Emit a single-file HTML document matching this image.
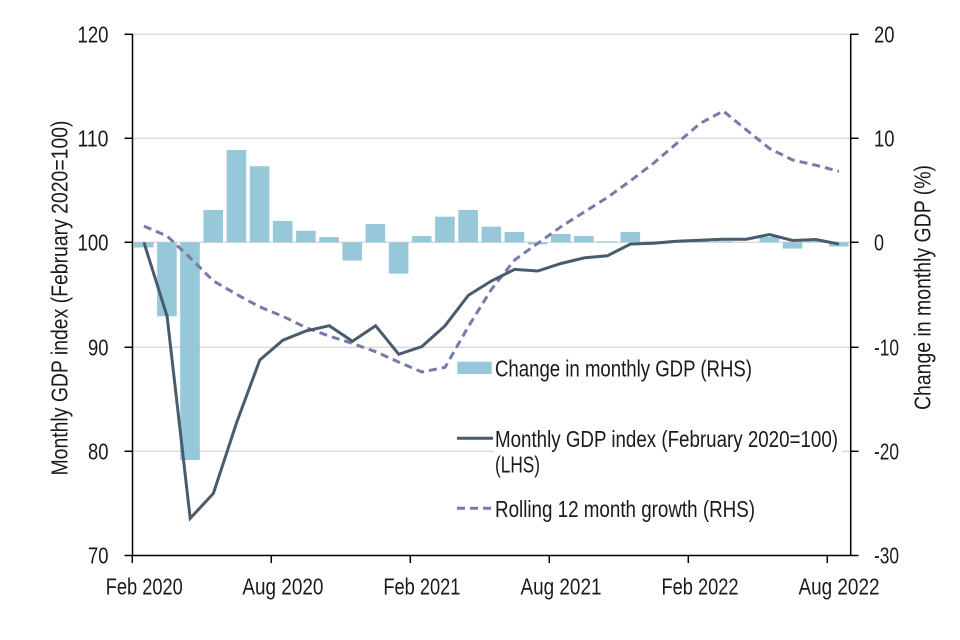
<!DOCTYPE html>
<html>
<head>
<meta charset="utf-8">
<style>
  html, body { margin: 0; padding: 0; background: #ffffff; }
  svg { display: block; }
  text { font-family: "Liberation Sans Narrow", "Liberation Sans", Arial, sans-serif; font-size: 23px; fill: #1a1a1a; }
</style>
</head>
<body>
<svg width="960" height="640" viewBox="0 0 960 640" xmlns="http://www.w3.org/2000/svg">
  <rect x="0" y="0" width="960" height="640" fill="#ffffff"/>

  <!-- gridlines -->
  <g stroke="#d9d9d9" stroke-width="1.3">
    <line x1="132.5" y1="34.3" x2="850.7" y2="34.3"/>
    <line x1="132.5" y1="138.3" x2="850.7" y2="138.3"/>
    <line x1="132.5" y1="242.3" x2="850.7" y2="242.3"/>
    <line x1="132.5" y1="347.3" x2="850.7" y2="347.3"/>
    <line x1="132.5" y1="451.3" x2="850.7" y2="451.3"/>
  </g>

  <!-- bars -->
  <g fill="#96c8da">
    <rect x="133.9" y="242.3" width="19.6" height="5.2"/>
    <rect x="157.1" y="242.3" width="19.6" height="74.0"/>
    <rect x="180.2" y="242.3" width="19.6" height="217.8"/>
    <rect x="203.4" y="210.0" width="19.6" height="32.3"/>
    <rect x="226.6" y="150.0" width="19.6" height="92.3"/>
    <rect x="249.8" y="166.2" width="19.6" height="76.1"/>
    <rect x="272.9" y="220.9" width="19.6" height="21.4"/>
    <rect x="296.1" y="230.8" width="19.6" height="11.5"/>
    <rect x="319.3" y="237.1" width="19.6" height="5.2"/>
    <rect x="342.4" y="242.3" width="19.6" height="18.2"/>
    <rect x="365.6" y="224.1" width="19.6" height="18.2"/>
    <rect x="388.8" y="242.3" width="19.6" height="31.3"/>
    <rect x="411.9" y="236.0" width="19.6" height="6.3"/>
    <rect x="435.1" y="216.7" width="19.6" height="25.6"/>
    <rect x="458.3" y="210.0" width="19.6" height="32.3"/>
    <rect x="481.5" y="226.7" width="19.6" height="15.6"/>
    <rect x="504.6" y="231.9" width="19.6" height="10.4"/>
    <rect x="527.8" y="242.3" width="19.6" height="2.1"/>
    <rect x="551.0" y="234.0" width="19.6" height="8.3"/>
    <rect x="574.1" y="236.0" width="19.6" height="6.3"/>
    <rect x="597.3" y="241.3" width="19.6" height="1.0"/>
    <rect x="620.5" y="231.9" width="19.6" height="10.4"/>
    <rect x="643.6" y="241.3" width="19.6" height="1.0"/>
    <rect x="666.8" y="240.2" width="19.6" height="2.1"/>
    <rect x="690.0" y="241.3" width="19.6" height="1.0"/>
    <rect x="713.2" y="241.3" width="19.6" height="1.0"/>
    <rect x="759.5" y="237.1" width="19.6" height="5.2"/>
    <rect x="782.7" y="242.3" width="19.6" height="6.3"/>
    <rect x="805.8" y="241.3" width="19.6" height="1.0"/>
    <rect x="829.0" y="242.3" width="19.6" height="4.2"/>
  </g>

  <!-- rolling 12 month growth (dashed) -->
  <polyline fill="none" stroke="#7a79a9" stroke-width="3" stroke-dasharray="8,5" stroke-linejoin="round"
    points="143.9,226.1 167.1,236.0 190.2,257.9 213.4,280.9 236.6,294.4 259.8,306.9 282.9,316.3 306.1,327.7 329.3,336.1 352.4,343.4 375.6,351.7 398.8,362.1 421.9,372.0 445.1,367.3 468.3,326.7 491.5,289.2 514.6,260.0 537.8,243.3 561.0,226.7 584.1,212.1 607.3,197.5 630.5,180.8 653.6,163.1 676.8,143.3 700.0,123.5 723.2,111.0 746.3,129.8 769.5,148.5 792.7,160.0 815.8,165.2 839.0,171.4"/>

  <!-- monthly GDP index (solid) -->
  <polyline fill="none" stroke="#485c6e" stroke-width="3" stroke-linejoin="miter"
    points="143.9,242.3 167.1,316.3 190.2,518.4 213.4,493.4 236.6,422.6 259.8,360.0 282.9,340.2 306.1,330.9 329.3,325.7 352.4,341.3 375.6,325.7 398.8,354.3 421.9,346.5 445.1,325.7 468.3,295.4 491.5,280.9 514.6,269.4 537.8,271.0 561.0,263.5 584.1,257.9 607.3,255.8 630.5,244.0 653.6,243.3 676.8,241.3 700.0,240.2 723.2,239.2 746.3,239.2 769.5,234.5 792.7,240.5 815.8,239.5 839.0,244.0"/>

  <!-- axes -->
  <g stroke="#000" stroke-width="1.5" fill="none">
    <line x1="132.5" y1="34" x2="132.5" y2="556"/>
    <line x1="850.7" y1="34" x2="850.7" y2="556"/>
    <line x1="132" y1="555.5" x2="851" y2="555.5"/>
    <line x1="124.5" y1="34.3" x2="132.5" y2="34.3"/>
    <line x1="124.5" y1="138.3" x2="132.5" y2="138.3"/>
    <line x1="124.5" y1="242.3" x2="132.5" y2="242.3"/>
    <line x1="124.5" y1="347.3" x2="132.5" y2="347.3"/>
    <line x1="124.5" y1="451.3" x2="132.5" y2="451.3"/>
    <line x1="124.5" y1="555.5" x2="132.5" y2="555.5"/>
    <line x1="850.7" y1="34.3" x2="858.5" y2="34.3"/>
    <line x1="850.7" y1="138.3" x2="858.5" y2="138.3"/>
    <line x1="850.7" y1="242.3" x2="858.5" y2="242.3"/>
    <line x1="850.7" y1="347.3" x2="858.5" y2="347.3"/>
    <line x1="850.7" y1="451.3" x2="858.5" y2="451.3"/>
    <line x1="850.7" y1="555.5" x2="858.5" y2="555.5"/>
    <line x1="132.3" y1="555.5" x2="132.3" y2="563"/>
    <line x1="271.3" y1="555.5" x2="271.3" y2="563"/>
    <line x1="410.3" y1="555.5" x2="410.3" y2="563"/>
    <line x1="549.3" y1="555.5" x2="549.3" y2="563"/>
    <line x1="688.3" y1="555.5" x2="688.3" y2="563"/>
    <line x1="827.3" y1="555.5" x2="827.3" y2="563"/>
  </g>

  <!-- left tick labels -->
  <g text-anchor="end">
    <text x="108.5" y="42.5" textLength="31" lengthAdjust="spacingAndGlyphs">120</text>
    <text x="108.5" y="146.5" textLength="31" lengthAdjust="spacingAndGlyphs">110</text>
    <text x="108.5" y="250.5" textLength="31" lengthAdjust="spacingAndGlyphs">100</text>
    <text x="108.5" y="355.5" textLength="20.5" lengthAdjust="spacingAndGlyphs">90</text>
    <text x="108.5" y="459.5" textLength="20.5" lengthAdjust="spacingAndGlyphs">80</text>
    <text x="108.5" y="563.7" textLength="20.5" lengthAdjust="spacingAndGlyphs">70</text>
  </g>

  <!-- right tick labels -->
  <g text-anchor="start">
    <text x="874" y="42.5" textLength="20.5" lengthAdjust="spacingAndGlyphs">20</text>
    <text x="874" y="146.5" textLength="20.5" lengthAdjust="spacingAndGlyphs">10</text>
    <text x="874" y="250.5" textLength="10" lengthAdjust="spacingAndGlyphs">0</text>
    <text x="874" y="355.5" textLength="25" lengthAdjust="spacingAndGlyphs">-10</text>
    <text x="874" y="459.5" textLength="25" lengthAdjust="spacingAndGlyphs">-20</text>
    <text x="874" y="563.7" textLength="25" lengthAdjust="spacingAndGlyphs">-30</text>
  </g>

  <!-- x labels -->
  <g text-anchor="middle">
    <text x="144.3" y="594.5" textLength="77" lengthAdjust="spacingAndGlyphs">Feb 2020</text>
    <text x="282.9" y="594.5" textLength="81" lengthAdjust="spacingAndGlyphs">Aug 2020</text>
    <text x="421.9" y="594.5" textLength="77" lengthAdjust="spacingAndGlyphs">Feb 2021</text>
    <text x="561.0" y="594.5" textLength="81" lengthAdjust="spacingAndGlyphs">Aug 2021</text>
    <text x="700.0" y="594.5" textLength="77" lengthAdjust="spacingAndGlyphs">Feb 2022</text>
    <text x="839.0" y="594.5" textLength="81" lengthAdjust="spacingAndGlyphs">Aug 2022</text>
  </g>

  <!-- axis titles -->
  <text transform="translate(67.5,298) rotate(-90)" text-anchor="middle" textLength="355" lengthAdjust="spacingAndGlyphs">Monthly GDP index (February 2020=100)</text>
  <text transform="translate(930.5,287.5) rotate(-90)" text-anchor="middle" textLength="245" lengthAdjust="spacingAndGlyphs">Change in monthly GDP (%)</text>

  <!-- legend -->
  <rect x="494" y="352" width="348" height="170" fill="#ffffff"/>
  <rect x="457.3" y="361.7" width="34.4" height="12.3" fill="#96c8da"/>
  <text x="495" y="376.3" textLength="257" lengthAdjust="spacingAndGlyphs">Change in monthly GDP (RHS)</text>
  <line x1="457" y1="438.3" x2="493" y2="438.3" stroke="#485c6e" stroke-width="3"/>
  <text x="495" y="447" textLength="343" lengthAdjust="spacingAndGlyphs">Monthly GDP index (February 2020=100)</text>
  <text x="495" y="472.5" textLength="45" lengthAdjust="spacingAndGlyphs">(LHS)</text>
  <line x1="457" y1="508.3" x2="493" y2="508.3" stroke="#7a79a9" stroke-width="3" stroke-dasharray="8,5"/>
  <text x="495" y="517" textLength="260" lengthAdjust="spacingAndGlyphs">Rolling 12 month growth (RHS)</text>
</svg>
</body>
</html>
